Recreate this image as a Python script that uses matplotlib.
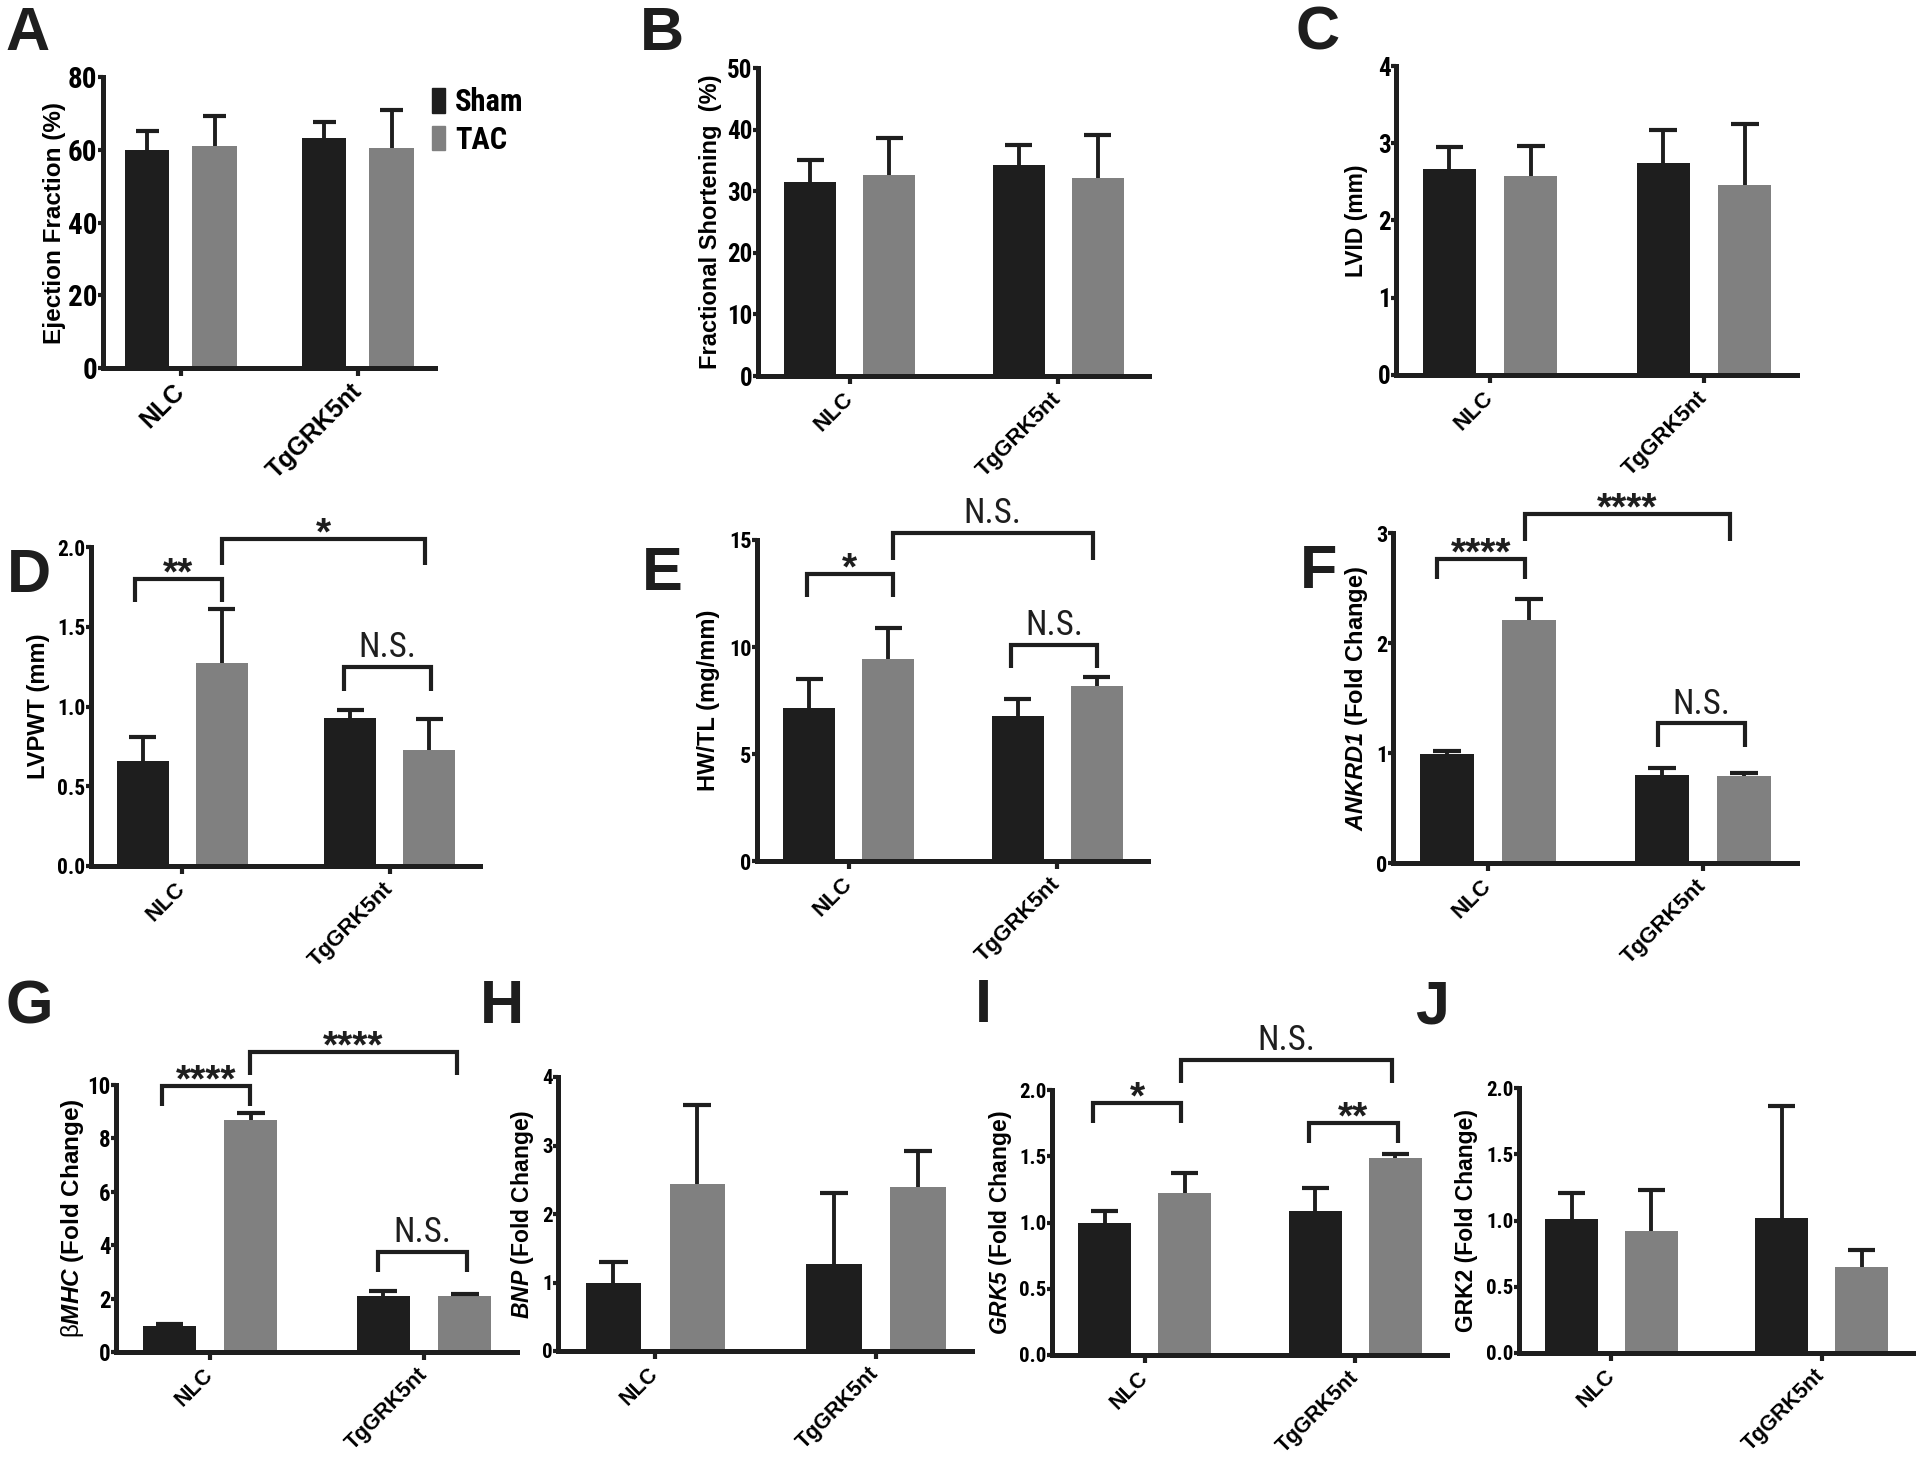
import os
import numpy as np
import matplotlib
matplotlib.use("Agg")
import matplotlib.pyplot as plt
from matplotlib import font_manager as fm
from matplotlib.patches import Patch

SANS = "Liberation Sans"
plt.rcParams["font.family"] = [SANS, "DejaVu Sans"]
plt.rcParams["mathtext.fontset"] = "custom"
plt.rcParams["mathtext.rm"] = "Liberation Sans:italic:bold"
plt.rcParams["mathtext.it"] = "Liberation Sans:italic:bold"
plt.rcParams["mathtext.bf"] = "Liberation Sans:bold"
plt.rcParams["mathtext.sf"] = "Liberation Sans"


def find_condensed(bold):
    if bold:
        prefs = ["liberationsansnarrow-bold.ttf", "robotocondensed-bold.ttf",
                 "notosans-condensedbold.ttf", "opensans-condensedbold.ttf",
                 "dejavusanscondensed-bold.ttf", "opensanscondensed-bold.ttf"]
    else:
        prefs = ["liberationsansnarrow-regular.ttf", "robotocondensed-regular.ttf",
                 "notosans-condensed.ttf", "notosans-condensedregular.ttf",
                 "opensans-condensedregular.ttf", "dejavusanscondensed.ttf"]
    names = {os.path.basename(e.fname).lower(): e.fname for e in fm.fontManager.ttflist}
    for p in prefs:
        if p in names:
            return names[p]
    for e in fm.fontManager.ttflist:
        w = e.weight
        isbold = (w in ("bold", 700)) or (isinstance(w, int) and w >= 700)
        if str(e.stretch) == "condensed" and isbold == bold and e.style == "normal":
            return e.fname
    return None


CB = find_condensed(True)
CR = find_condensed(False)
HAVE_COND = CB is not None and CR is not None


def fp_bold_narrow(size):
    if CB:
        return fm.FontProperties(fname=CB, size=size)
    return fm.FontProperties(family=SANS, weight="bold", size=size * 0.86)


def fp_reg_narrow(size):
    if CR:
        return fm.FontProperties(fname=CR, size=size)
    return fm.FontProperties(family=SANS, weight="normal", size=size * 0.9)


# ---------------- data ----------------
groups = ["NLC", "TgGRK5nt"]
series = ["Sham", "TAC"]

ef_sham, ef_sham_sem = [59.8, 63.2], [5.3, 4.4]
ef_tac, ef_tac_sem = [61.0, 60.6], [8.4, 10.3]

fs_sham, fs_sham_sem = [31.5, 34.3], [3.6, 3.2]
fs_tac, fs_tac_sem = [32.7, 32.1], [5.9, 7.0]

lvid_sham, lvid_sham_sem = [2.67, 2.75], [0.28, 0.42]
lvid_tac, lvid_tac_sem = [2.58, 2.46], [0.38, 0.79]

lvpwt_sham, lvpwt_sham_sem = [0.66, 0.93], [0.15, 0.05]
lvpwt_tac, lvpwt_tac_sem = [1.27, 0.73], [0.34, 0.19]

hwtl_sham, hwtl_sham_sem = [7.13, 6.78], [1.36, 0.78]
hwtl_tac, hwtl_tac_sem = [9.42, 8.19], [1.45, 0.42]

ankrd1_sham, ankrd1_sham_sem = [0.99, 0.80], [0.03, 0.06]
ankrd1_tac, ankrd1_tac_sem = [2.21, 0.79], [0.19, 0.03]

bmhc_sham, bmhc_sham_sem = [0.96, 2.11], [0.07, 0.18]
bmhc_tac, bmhc_tac_sem = [8.69, 2.10], [0.25, 0.06]

bnp_sham, bnp_sham_sem = [1.00, 1.27], [0.30, 1.03]
bnp_tac, bnp_tac_sem = [2.44, 2.40], [1.15, 0.52]

grk5_sham, grk5_sham_sem = [1.00, 1.09], [0.087, 0.17]
grk5_tac, grk5_tac_sem = [1.225, 1.49], [0.145, 0.03]

grk2_sham, grk2_sham_sem = [1.01, 1.02], [0.20, 0.845]
grk2_tac, grk2_tac_sem = [0.92, 0.65], [0.31, 0.125]

# y ticks
ef_ticks = [0, 20, 40, 60, 80]
fs_ticks = [0, 10, 20, 30, 40, 50]
lvid_ticks = [0, 1, 2, 3, 4]
lvpwt_ticks = [0.0, 0.5, 1.0, 1.5, 2.0]
hwtl_ticks = [0, 5, 10, 15]
ankrd1_ticks = [0, 1, 2, 3]
bmhc_ticks = [0, 2, 4, 6, 8, 10]
bnp_ticks = [0, 1, 2, 3, 4]
grk5_ticks = [0.0, 0.5, 1.0, 1.5, 2.0]
grk2_ticks = [0.0, 0.5, 1.0, 1.5, 2.0]

# significance brackets: (left, right, top, leg end, label)
lvpwt_sig = [(-0.23, 0.19, 1.80, 1.655, "**"), (0.19, 1.168, 2.05, 1.885, "*"),
             (0.78, 1.197, 1.248, 1.10, "N.S.")]
hwtl_sig = [(-0.20, 0.21, 13.4, 12.35, "*"), (0.21, 1.17, 15.34, 14.07, "N.S."),
            (0.78, 1.19, 10.09, 9.0, "N.S.")]
ankrd1_sig = [(-0.236, 0.171, 2.766, 2.58, "****"), (0.171, 1.123, 3.173, 2.93, "****"),
              (0.788, 1.193, 1.27, 1.057, "N.S.")]
bmhc_sig = [(-0.224, 0.188, 9.96, 9.21, "****"), (0.188, 1.153, 11.25, 10.375, "****"),
            (0.787, 1.20, 3.75, 3.0, "N.S.")]
grk5_sig = [(-0.244, 0.171, 1.904, 1.753, "*"), (0.171, 1.173, 2.226, 2.055, "N.S."),
            (0.781, 1.201, 1.753, 1.60, "**")]

# ---------------- style ----------------
DARK = "#1e1e1e"
GRAY = "#808080"
W, H = 1920, 1462
fig = plt.figure(figsize=(W / 100, H / 100), dpi=100)


def panel(rect, sham, sham_sem, tac, tac_sem, ticks, dec, ylabel, tick_fs, xt_fs,
          ylab_fs, ylab_px, sig=None):
    x0, y0, x1, y1 = rect
    ax = fig.add_axes([x0 / W, 1 - y1 / H, (x1 - x0) / W, (y1 - y0) / H])
    x = np.arange(len(groups))
    off, bw, cap = 0.19, 0.25, 0.065
    ax.bar(x - off, sham, bw, color=DARK, zorder=2, linewidth=0)
    ax.bar(x + off, tac, bw, color=GRAY, zorder=2, linewidth=0)
    for xs, m, s in ((x - off, sham, sham_sem), (x + off, tac, tac_sem)):
        m = np.asarray(m)
        top = m + np.asarray(s)
        ax.vlines(xs, m, top, color=DARK, lw=2.8, zorder=3)
        ax.hlines(top, xs - cap, xs + cap, color=DARK, lw=3.0, zorder=3)
    ax.set_xlim(-0.44, 1.435)
    ax.set_ylim(0, ticks[-1])
    for s in ("top", "right"):
        ax.spines[s].set_visible(False)
    for s in ("left", "bottom"):
        ax.spines[s].set_linewidth(3.6)
        ax.spines[s].set_color(DARK)
    ax.set_yticks(ticks)
    ax.set_yticklabels([f"{t:.{dec}f}" for t in ticks])
    tfp = fp_bold_narrow(tick_fs)
    for lab in ax.get_yticklabels():
        lab.set_fontproperties(tfp)
    ax.tick_params(axis="y", length=3.5, width=3, pad=0.5, color=DARK)
    ax.tick_params(axis="x", length=6, width=3, pad=8, color=DARK)
    ax.set_xticks(x)
    ax.set_xticklabels(groups, rotation=45, ha="right", va="center",
                       rotation_mode="anchor", fontweight="bold", fontsize=xt_fs)
    ax.set_ylabel(ylabel, fontsize=ylab_fs, fontweight="bold", va="center")
    ax.yaxis.set_label_coords(-ylab_px / (x1 - x0), 0.5)
    if sig:
        for l, r, t, b, lab in sig:
            ax.plot([l, l, r, r], [b, t, t, b], color=DARK, lw=3.0, clip_on=False,
                    solid_joinstyle="miter", solid_capstyle="butt", zorder=4)
            if lab == "N.S.":
                ax.annotate(lab, xy=((l + r) / 2, t), xytext=(0, 7),
                            textcoords="offset points", ha="center", va="baseline",
                            fontproperties=fp_reg_narrow(25), annotation_clip=False,
                            color=DARK)
            else:
                ax.annotate(lab, xy=((l + r) / 2, t), xytext=(0, -4),
                            textcoords="offset points", ha="center", va="baseline",
                            fontsize=28, fontweight="bold", annotation_clip=False,
                            color=DARK)
    return ax


a_off = 48 if HAVE_COND else 54
axA = panel((103, 77, 435, 368), ef_sham, ef_sham_sem, ef_tac, ef_tac_sem, ef_ticks, 0,
            "Ejection Fraction (%)", 21, 18, 17.5, a_off)
panel((758, 68, 1149, 376), fs_sham, fs_sham_sem, fs_tac, fs_tac_sem, fs_ticks, 0,
      "Fractional Shortening  (%)", 18, 16, 17, 48)
panel((1396, 66, 1797, 375), lvid_sham, lvid_sham_sem, lvid_tac, lvid_tac_sem, lvid_ticks, 0,
      "LVID (mm)", 18, 16, 16.5, 39)
panel((91, 547, 480, 866), lvpwt_sham, lvpwt_sham_sem, lvpwt_tac, lvpwt_tac_sem, lvpwt_ticks, 1,
      "LVPWT (mm)", 15.5, 16, 17, 53, lvpwt_sig)
panel((757, 540, 1148, 861), hwtl_sham, hwtl_sham_sem, hwtl_tac, hwtl_tac_sem, hwtl_ticks, 0,
      "HW/TL (mg/mm)", 16, 16, 17, 48, hwtl_sig)
panel((1393, 533, 1797, 863), ankrd1_sham, ankrd1_sham_sem, ankrd1_tac, ankrd1_tac_sem,
      ankrd1_ticks, 0, r"$\mathit{ANKRD1}$ (Fold Change)", 16, 16, 17, 37, ankrd1_sig)
panel((116, 1085, 517, 1352), bmhc_sham, bmhc_sham_sem, bmhc_tac, bmhc_tac_sem, bmhc_ticks, 0,
      r"$\mathsf{β}\mathit{MHC}$ (Fold Change)", 16.5, 15.5, 17.5, 44, bmhc_sig)
panel((558, 1077, 972, 1351), bnp_sham, bnp_sham_sem, bnp_tac, bnp_tac_sem, bnp_ticks, 0,
      r"$\mathit{BNP}$ (Fold Change)", 15, 15.5, 16.5, 35)
panel((1052, 1090, 1447, 1355), grk5_sham, grk5_sham_sem, grk5_tac, grk5_tac_sem, grk5_ticks, 1,
      r"$\mathit{GRK5}$ (Fold Change)", 15, 15.5, 16.5, 52, grk5_sig)
panel((1519, 1088, 1913, 1353), grk2_sham, grk2_sham_sem, grk2_tac, grk2_tac_sem, grk2_ticks, 1,
      "GRK2 (Fold Change)", 15, 15.5, 16.5, 52)

axA.legend(handles=[Patch(color=DARK), Patch(color=GRAY)], labels=series,
           loc="upper left", bbox_to_anchor=(0.99, 0.965), frameon=False,
           prop=fp_bold_narrow(22),
           handlelength=0.42, handleheight=0.85, handletextpad=0.35,
           labelspacing=0.25, borderaxespad=0, borderpad=0)

# panel letters (left x, baseline y in pixels)
letters = [("A", 5, 50), ("B", 640, 50), ("C", 1295, 50),
           ("D", 7, 592), ("E", 642, 590), ("F", 1300, 588),
           ("G", 5, 1023), ("H", 480, 1023), ("I", 975, 1022), ("J", 1415, 1023)]
for t, lx, ly in letters:
    fig.text(lx / W, 1 - ly / H, t, fontsize=44, fontweight="bold", fontfamily=SANS,
             ha="left", va="baseline", color=DARK)

fig.savefig("out.png", dpi=100)
